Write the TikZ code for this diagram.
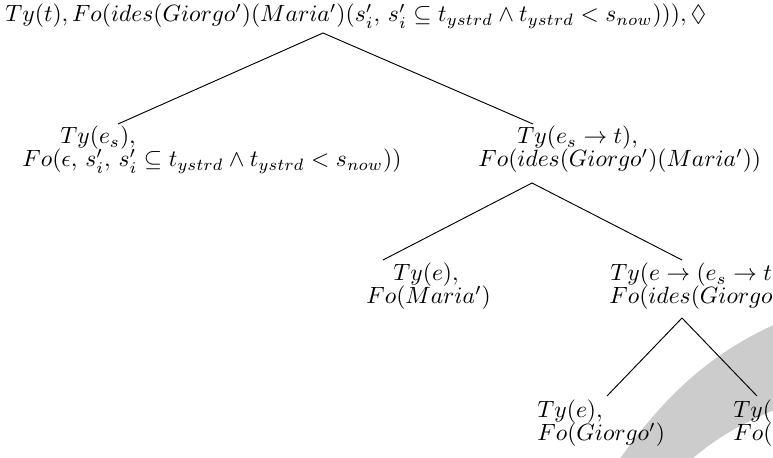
\documentclass[tikz,border=0pt]{standalone}
\usepackage{amsmath}
\usepackage{amssymb}
\usepackage{tikz}
\usetikzlibrary{calc, positioning}
\tikzset {
    label/.style = {
        anchor = base west,
        inner sep = 0pt,
        font = \fontsize{10}{12}\selectfont
    },
    branch/.style = {
        line width = 0.4pt,
        draw
    },
    swoosh/.style = {
        fill = black!20,
        draw = none
    }
}

\begin{document}
\begin{tikzpicture}[x=0.425pt, y=-0.425pt]
        \useasboundingbox (0, 0) rectangle (773, 458);
        \clip (0, 0) rectangle (773, 458);

        % Background band in the lower right corner
        \fill [swoosh] (612, 470) .. controls (660, 400) and (710, 350) .. (790, 318)
                       -- (790, 404) .. controls (740, 422) and (705, 445) .. (680, 470) -- cycle;

        % Root : the whole formula
        \node [label] at (5, 22)        (root)      {$Ty(t), Fo(ides(Giorgo')(Maria')(s'_i,\, s'_i \subseteq t_{ystrd} \wedge t_{ystrd} < s_{now}))), \Diamond$};

        % First row : event argument, predicate
        \node [label] at (60, 144)      (tyL1)      {$Ty(e_s),$};
        \node [label] at (22, 167)      (foL1)      {$Fo(\epsilon,\, s'_i,\, s'_i \subseteq t_{ystrd} \wedge t_{ystrd} < s_{now}))$};
        \node [label] at (517, 144)     (tyR1)      {$Ty(e_s \rightarrow t),$};
        \node [label] at (478, 167)     (foR1)      {$Fo(ides(Giorgo')(Maria'))$};

        % Second row : object, two-place predicate
        \node [label] at (393, 281)     (tyL2)      {$Ty(e),$};
        \node [label] at (366, 304)     (foL2)      {$Fo(Maria')$};
        \node [label] at (610, 281)     (tyR2)      {$Ty(e \rightarrow (e_s \rightarrow t)),$};
        \node [label] at (609, 304)     (foR2)      {$Fo(ides(Giorgo'))$};

        % Third row : subject, verb
        \node [label] at (537, 418)     (tyL3)      {$Ty(e),$};
        \node [label] at (537, 441)     (foL3)      {$Fo(Giorgo')$};
        \node [label] at (733, 418)     (tyR3)      {$Ty(e \rightarrow (e \rightarrow (e_s \rightarrow t))),$};
        \node [label] at (733, 441)     (foR3)      {$Fo(ides)$};

        % Branch points
        \coordinate (top0)  at (323, 33);
        \coordinate (top1L) at (118, 124);
        \coordinate (top1R) at (533, 124);
        \coordinate (bot1R) at (532, 183);
        \coordinate (top2L) at (383, 260);
        \coordinate (top2R) at (682, 260);
        \coordinate (bot2R) at (682, 318);
        \coordinate (top3L) at (607, 396);
        \coordinate (top3R) at (757, 396);

        \path [branch]  (top1L) -- (top0) -- (top1R);
        \path [branch]  (top2L) -- (bot1R) -- (top2R);
        \path [branch]  (top3L) -- (bot2R) -- (top3R);
    \end{tikzpicture}
\end{document}
